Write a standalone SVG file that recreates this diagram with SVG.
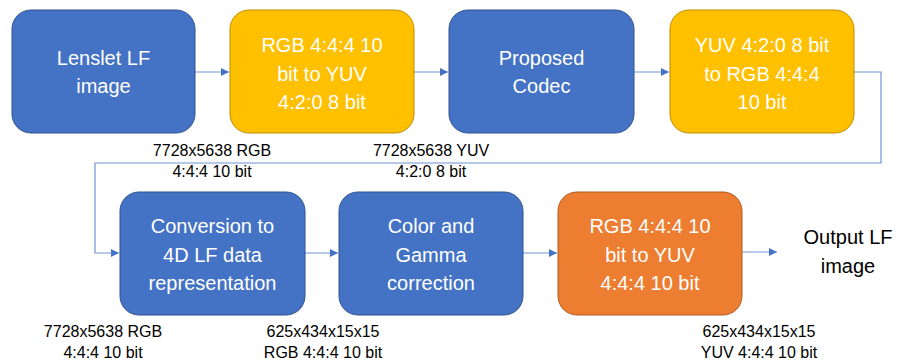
<svg xmlns="http://www.w3.org/2000/svg" width="898" height="363" viewBox="0 0 898 363">
<style>
.box{stroke-width:1}
.blue{fill:#4472C4;stroke:#2F528F}
.yel{fill:#FFC000;stroke:#BC8C00}
.org{fill:#ED7D31;stroke:#AE5A21}
.bt{font-family:"Liberation Sans",Arial,sans-serif;font-size:20px;fill:#fff;text-anchor:middle}
.ot{font-family:"Liberation Sans",Arial,sans-serif;font-size:20px;fill:#000;text-anchor:middle}
.lb{font-family:"Liberation Sans",Arial,sans-serif;font-size:16px;fill:#000;text-anchor:middle}
.con{fill:none;stroke:#6F93D3;stroke-width:1.2}
</style>
<defs>
<marker id="ah" viewBox="0 0 10 10" refX="10" refY="5" markerWidth="8" markerHeight="8" markerUnits="userSpaceOnUse" orient="auto">
<path d="M0,0 L10,5 L0,10 z" fill="#4472C4"/>
</marker>
</defs>
<g id="connectors">
<path class="con" d="M195,72 H229" marker-end="url(#ah)"/>
<path class="con" d="M414,72 H448" marker-end="url(#ah)"/>
<path class="con" d="M634,72 H669" marker-end="url(#ah)"/>
<path class="con" d="M854,72 H881 V163 H95 V253 H119" marker-end="url(#ah)"/>
<path class="con" d="M305,253 H338" marker-end="url(#ah)"/>
<path class="con" d="M523,253 H557" marker-end="url(#ah)"/>
<path class="con" d="M742,252 H777" marker-end="url(#ah)"/>
</g>
<g id="n1"><rect class="box blue" x="12" y="10" width="183" height="123" rx="19"/>
<text class="bt" x="103.5" y="65">Lenslet LF</text><text class="bt" x="103.5" y="93">image</text></g>
<g id="n2"><rect class="box yel" x="230" y="10" width="184" height="123" rx="19"/>
<text class="bt" x="322" y="52">RGB 4:4:4 10</text><text class="bt" x="322" y="80.5">bit to YUV</text><text class="bt" x="322" y="109">4:2:0 8 bit</text></g>
<g id="n3"><rect class="box blue" x="449" y="10" width="185" height="123" rx="19"/>
<text class="bt" x="541.5" y="65">Proposed</text><text class="bt" x="541.5" y="93">Codec</text></g>
<g id="n4"><rect class="box yel" x="670" y="10" width="184" height="123" rx="19"/>
<text class="bt" x="762" y="52">YUV 4:2:0 8 bit</text><text class="bt" x="762" y="80.5">to RGB 4:4:4</text><text class="bt" x="762" y="109">10 bit</text></g>
<g id="n5"><rect class="box blue" x="120" y="192" width="185" height="123" rx="19"/>
<text class="bt" x="212.5" y="233">Conversion to</text><text class="bt" x="212.5" y="261.5">4D LF data</text><text class="bt" x="212.5" y="290">representation</text></g>
<g id="n6"><rect class="box blue" x="339" y="192" width="184" height="123" rx="19"/>
<text class="bt" x="431" y="233">Color and</text><text class="bt" x="431" y="261.5">Gamma</text><text class="bt" x="431" y="290">correction</text></g>
<g id="n7"><rect class="box org" x="558" y="192" width="184" height="123" rx="19"/>
<text class="bt" x="650" y="233">RGB 4:4:4 10</text><text class="bt" x="650" y="261.5">bit to YUV</text><text class="bt" x="650" y="290">4:4:4 10 bit</text></g>
<g id="n8"><text class="ot" x="848" y="244">Output LF</text><text class="ot" x="848" y="273">image</text></g>
<g id="labels">
<text class="lb" x="212" y="156">7728x5638 RGB</text><text class="lb" x="212" y="177">4:4:4 10 bit</text>
<text class="lb" x="431" y="156">7728x5638 YUV</text><text class="lb" x="431" y="177">4:2:0 8 bit</text>
<text class="lb" x="103" y="337">7728x5638 RGB</text><text class="lb" x="103" y="358">4:4:4 10 bit</text>
<text class="lb" x="323" y="337">625x434x15x15</text><text class="lb" x="323" y="358">RGB 4:4:4 10 bit</text>
<text class="lb" x="759" y="337">625x434x15x15</text><text class="lb" x="759" y="358">YUV 4:4:4 10 bit</text>
</g>
</svg>
